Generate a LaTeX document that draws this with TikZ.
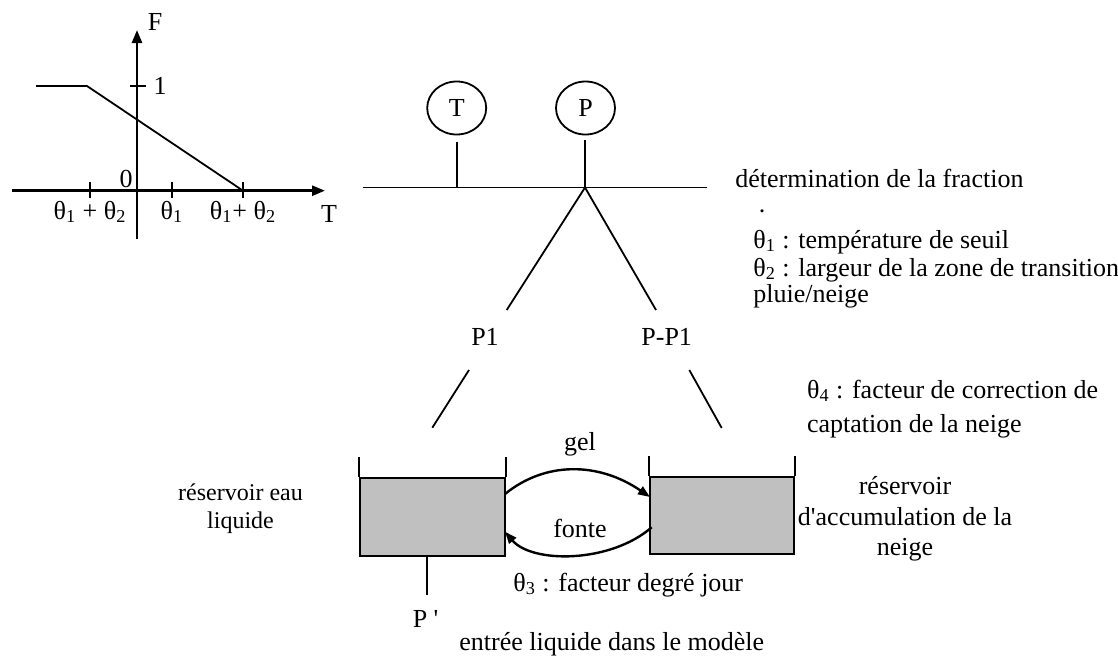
\documentclass[tikz,border=0pt]{standalone}
\usepackage{fontspec}
\setmainfont{Liberation Serif}[Ligatures=TeXOff]
\usetikzlibrary{arrows.meta,shapes.geometric}
\definecolor{tankgray}{RGB}{192,192,192}
\begin{document}
\begin{tikzpicture}[x=0.5pt,y=-0.5pt,
  every node/.style={font=\fontsize{13}{15}\selectfont, inner sep=0pt},
  ln/.style={line width=0.9pt},
  axisline/.style={line width=1.3pt,-{Triangle[length=6.5pt,width=5pt]}},
  flow/.style={line width=1.2pt,-{Triangle[length=6pt,width=4.5pt]}},
  tank/.style={draw,fill=tankgray,line width=0.9pt,inner sep=0pt},
  lbl/.style={anchor=base},
  lblw/.style={anchor=base west},
  small/.style={font=\fontsize{12}{14}\selectfont},
  gauge/.style={draw,ellipse,line width=0.9pt,minimum width=29.5pt,minimum height=26.5pt,inner sep=0pt}]
\useasboundingbox (0,0) rectangle (1118,659);

% ---- graph F(T)
\coordinate (yb) at (137,239);
\coordinate (yt) at (137,30);
\coordinate (xl) at (12,190.7);
\coordinate (xr) at (325,190.7);
\draw[axisline] (yb) -- (yt);
\draw[axisline] (xl) -- (xr);
\draw[ln] (90,182) -- (90,198);
\draw[ln] (172,182) -- (172,198);
\draw[ln] (243,182) -- (243,198);
\draw[ln] (130,86) -- (146,86);
\draw[ln] (36,86) -- (87,86) -- (243,190.7);
\node[lbl] (F) at (155,30) {F};
\node[lbl] (one) at (160,94) {1};
\node[lbl] (zero) at (126,187) {0};
\node[lbl] (tl) at (90,219) {θ\textsubscript{1} + θ\textsubscript{2}};
\node[lbl] (tm) at (172,219) {θ\textsubscript{1}};
\node[lbl] (tr) at (243,219) {θ\textsubscript{1}+ θ\textsubscript{2}};
\node[lbl] (Tlab) at (329,222) {T};

% ---- gauges and fraction line
\node[gauge] (Tg) at (456.7,108) {T};
\node[gauge] (Pg) at (585.5,108) {P};
\coordinate (Tst) at (456.7,141.7);
\coordinate (Tj) at (456.7,187.5);
\coordinate (Pst) at (585,140);
\coordinate (J) at (585,187.5);
\coordinate (hl) at (362.7,187.5);
\coordinate (hr) at (707,187.5);
\draw[ln] (hl) -- (hr);
\draw[ln] (Tst) -- (Tj);
\draw[ln] (Pst) -- (J);
\coordinate (f1) at (506.7,310);
\coordinate (f2) at (656,310);
\draw[ln] (f1) -- (J) -- (f2);
\node[lbl] (P1) at (485,345) {P1};
\node[lbl] (PP1) at (666.7,345) {P-P1};
\coordinate (a1) at (469,370);
\coordinate (a2) at (432.3,427.7);
\coordinate (b1) at (689.3,370);
\coordinate (b2) at (721.7,428);
\draw[ln] (a1) -- (a2);
\draw[ln] (b1) -- (b2);

% ---- tanks
\node[tank,minimum width=72.5pt,minimum height=39pt] (L) at (432.5,517) {};
\node[tank,minimum width=72pt,minimum height=38.5pt] (R) at (722,515.5) {};
\draw[ln] (L.north west) -- ++(0,-20);
\draw[ln] (L.north east) -- ++(0,-20);
\draw[ln] (R.north west) -- ++(0,-20);
\draw[ln] (R.north east) -- ++(0,-20);
\coordinate (g0) at (505,494);
\coordinate (g1) at (650,497);
\coordinate (h0) at (651.7,527.3);
\coordinate (h1) at (505,531.7);
\draw[flow] (g0) .. controls (545,461.5) and (598,461.5) .. (g1);
\draw[flow] (h0) .. controls (610,563.5) and (532,563.5) .. (h1);
\coordinate (pp0) at (426.7,556);
\coordinate (pp1) at (426.7,595);
\draw[ln] (pp0) -- (pp1);

\node[lbl] (gel) at (580,450) {gel};
\node[lbl] (fonte) at (580,537) {fonte};
\node[lblw] (th3) at (513,591) {θ\textsubscript{3} : facteur degré jour};
\node[lbl] (Pp) at (425.6,627) {P '};
\node[lbl] (entree) at (611.7,650) {entrée liquide dans le modèle};

% ---- right texts
\node[lblw] (det) at (735,187) {détermination de la fraction};
\node[lbl] (dot) at (762,212) {.};
\node[lblw] (th1) at (753,248) {θ\textsubscript{1} : température de seuil};
\node[lblw] (th2) at (753,276) {θ\textsubscript{2} : largeur de la zone de transition};
\node[lblw] (pn) at (753,302) {pluie/neige};
\node[lblw] (th4) at (806.7,398) {θ\textsubscript{4} : facteur de correction de};
\node[lblw] (capt) at (806.7,432) {captation de la neige};
\node[lbl] (r1) at (905,494) {réservoir};
\node[lbl] (r2) at (905,525) {d'accumulation de la};
\node[lbl] (r3) at (905,555) {neige};
\node[lbl,small] (l1) at (240.5,500) {réservoir eau};
\node[lbl,small] (l2) at (240.5,528) {liquide};
\end{tikzpicture}
\end{document}
